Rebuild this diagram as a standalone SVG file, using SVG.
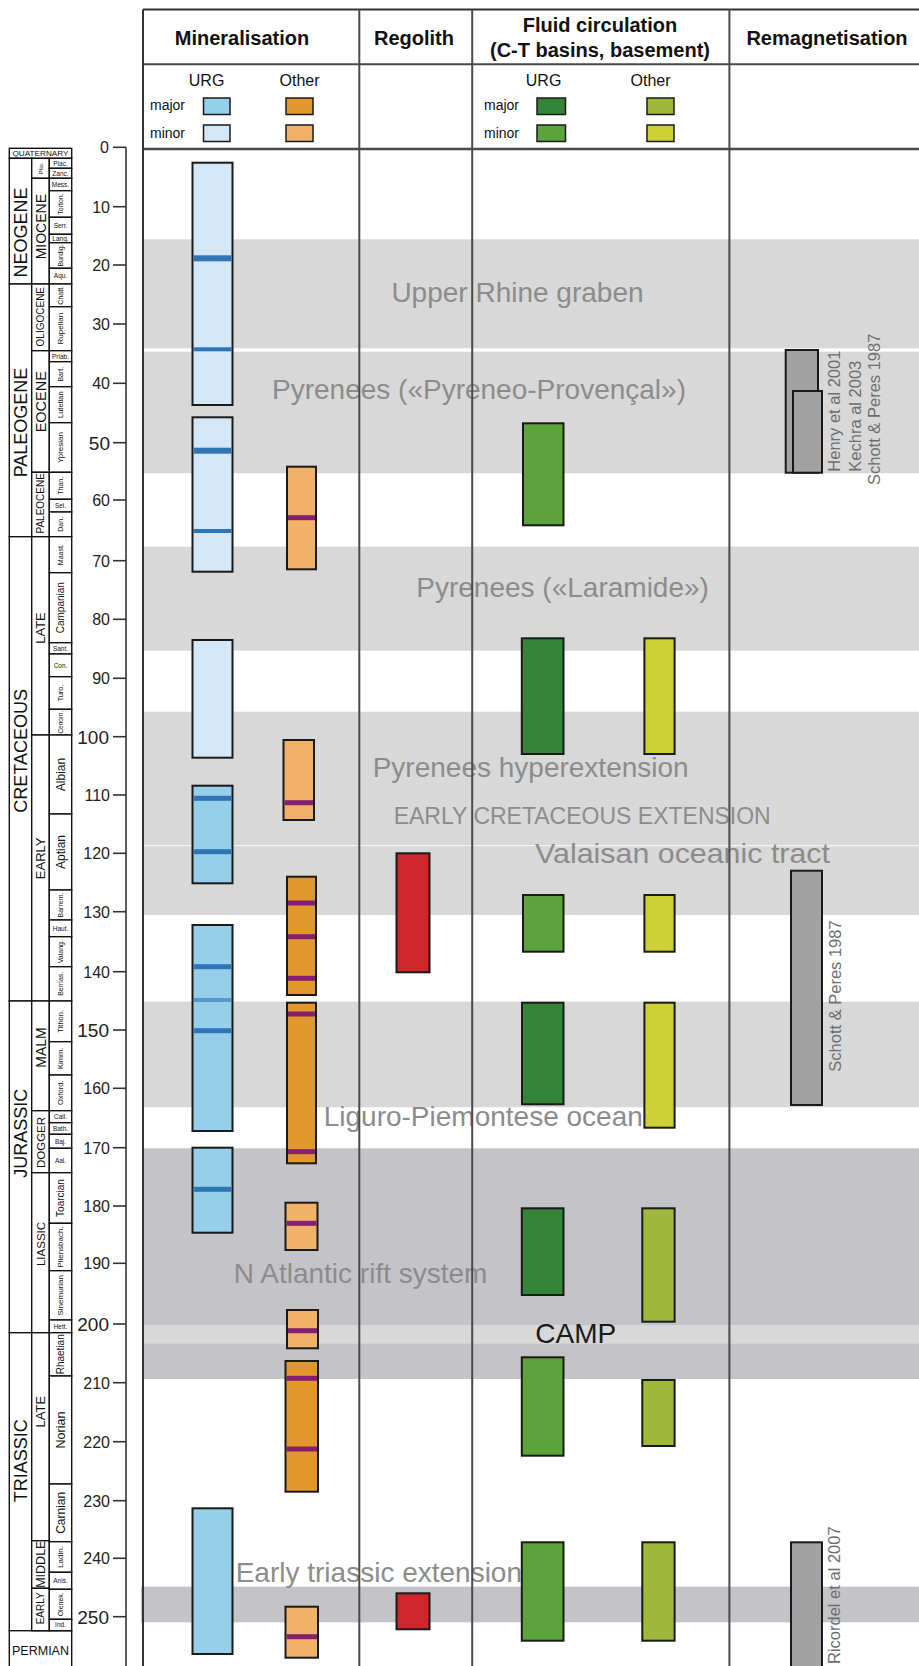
<svg xmlns="http://www.w3.org/2000/svg" width="919" height="1666" viewBox="0 0 919 1666">
<style>
text{font-family:"Liberation Sans",Arial,sans-serif;}
.hdr{font-size:20px;font-weight:bold;fill:#111;text-anchor:middle;}
.leg{font-size:16px;fill:#111;text-anchor:middle;}
.legs{font-size:14px;fill:#111;}
.band{fill:#d8d8d8;}
.bandd{fill:#c4c3c8;}
.blab{font-size:28px;fill:#8c8c8c;}
.num{font-size:16px;fill:#222;text-anchor:end;}
.numb{font-size:19px;fill:#222;text-anchor:end;}
.tick{stroke:#333;stroke-width:1.6;}
.ts{fill:#fff;stroke:#111;stroke-width:1.4;}
.per{font-size:18px;fill:#111;text-anchor:middle;}
.ep{fill:#111;text-anchor:middle;}
.st{fill:#111;text-anchor:middle;}
.col{stroke:#4a4a4a;stroke-width:2;fill:none;}
.bar{stroke:#1a1a1a;stroke-width:2;}
.lb{stroke:#1a1a1a;stroke-width:1.5;}
.urgM{fill:#96cfe9;}
.urgm{fill:#d4e7f6;}
.othM{fill:#e0982e;}
.othm{fill:#f0b268;}
.fuM{fill:#35843a;}
.fum{fill:#5ca33c;}
.foM{fill:#a0b83a;}
.fom{fill:#cccf35;}
.reg{fill:#d0252a;}
.rem{fill:#a2a2a2;}
.sb{fill:#2f74b5;}
.sp{fill:#86206e;}
.rtx{font-size:16.5px;fill:#6e6e6e;}
</style>

<!-- gray bands -->
<g id="bands">
<rect class="band" x="143" y="239.3" width="776" height="109"/>
<rect class="band" x="143" y="351.7" width="776" height="121.6"/>
<rect class="band" x="143" y="546.7" width="776" height="104"/>
<rect class="band" x="143" y="711.7" width="776" height="203.3"/>
<rect fill="#f4f4f4" x="143" y="845" width="776" height="1.2"/>
<rect class="band" x="143" y="1001.7" width="776" height="105.6"/>
<rect class="bandd" x="143" y="1148.3" width="776" height="176.7"/>
<rect class="band" x="143" y="1325" width="776" height="18.3"/>
<rect class="bandd" x="143" y="1343.3" width="776" height="35.7"/>
<rect class="bandd" x="141" y="1586.7" width="778" height="35.6"/>
</g>

<!-- band labels -->
<g id="band-labels">
<text class="blab" x="391.4" y="301.7">Upper Rhine graben</text>
<text class="blab" x="272" y="399.3">Pyrenees («Pyreneo-Provençal»)</text>
<text class="blab" x="416.3" y="597.3">Pyrenees («Laramide»)</text>
<text class="blab" x="372.7" y="776.7">Pyrenees hyperextension</text>
<text class="blab" x="393.7" y="824" style="font-size:23px">EARLY CRETACEOUS EXTENSION</text>
<text class="blab" x="535" y="863.3" textLength="295" lengthAdjust="spacingAndGlyphs">Valaisan oceanic tract</text>
<text class="blab" x="323.7" y="1126">Liguro-Piemontese ocean</text>
<text class="blab" x="233.8" y="1283.3">N Atlantic rift system</text>
<text class="blab" x="235.7" y="1581.7">Early triassic extension</text>
</g>

<!-- table frame -->
<g id="table">
<line class="col" x1="143" y1="9.5" x2="919" y2="9.5" style="stroke:#333"/>
<line class="col" x1="143" y1="64.3" x2="919" y2="64.3"/>
<line class="col" x1="143" y1="149" x2="919" y2="149" style="stroke-width:2.6"/>
<line class="col" x1="143" y1="9.5" x2="143" y2="1666" style="stroke:#333"/>
<line class="col" x1="359.3" y1="9.5" x2="359.3" y2="1666"/>
<line class="col" x1="472.2" y1="9.5" x2="472.2" y2="1666"/>
<line class="col" x1="729.4" y1="9.5" x2="729.4" y2="1666"/>
</g>

<!-- headers -->
<g id="headers">
<text class="hdr" x="242" y="45">Mineralisation</text>
<text class="hdr" x="414" y="45">Regolith</text>
<text class="hdr" x="600" y="32">Fluid circulation</text>
<text class="hdr" x="600" y="57">(C-T basins, basement)</text>
<text class="hdr" x="827" y="45">Remagnetisation</text>
</g>

<!-- legend -->
<g id="legend-mineralisation">
<text class="leg" x="206.6" y="86">URG</text>
<text class="leg" x="299.5" y="86">Other</text>
<text class="legs" x="150" y="110">major</text>
<text class="legs" x="150" y="137.5">minor</text>
<rect class="lb urgM" x="203.5" y="98" width="26.5" height="16.5"/>
<rect class="lb urgm" x="203.5" y="125" width="26.5" height="16.5"/>
<rect class="lb othM" x="286" y="98" width="27" height="16.5"/>
<rect class="lb othm" x="286" y="125" width="27" height="16.5"/>
</g>
<g id="legend-fluid">
<text class="leg" x="543.6" y="86">URG</text>
<text class="leg" x="650.6" y="86">Other</text>
<text class="legs" x="484" y="110">major</text>
<text class="legs" x="484" y="137.5">minor</text>
<rect class="lb fuM" x="537" y="98" width="28.5" height="16.5"/>
<rect class="lb fum" x="537" y="125" width="28.5" height="16.5"/>
<rect class="lb foM" x="647" y="98" width="27" height="16.5"/>
<rect class="lb fom" x="647" y="125" width="27" height="16.5"/>
</g>

<!-- age axis -->
<g id="axis">
<line class="tick" x1="126" y1="147.3" x2="126" y2="1666"/>
<line class="tick" x1="113" y1="147.3" x2="126" y2="147.3"/><text class="num" x="109" y="153.3">0</text>
<line class="tick" x1="113" y1="206.7" x2="126" y2="206.7"/><text class="num" x="110" y="212.7">10</text>
<line class="tick" x1="113" y1="265" x2="126" y2="265"/><text class="num" x="110" y="271">20</text>
<line class="tick" x1="113" y1="324" x2="126" y2="324"/><text class="num" x="110" y="330">30</text>
<line class="tick" x1="113" y1="383.3" x2="126" y2="383.3"/><text class="num" x="110" y="389.3">40</text>
<line class="tick" x1="113" y1="442.7" x2="126" y2="442.7"/><text class="numb" x="110" y="449.5">50</text>
<line class="tick" x1="113" y1="500" x2="126" y2="500"/><text class="num" x="110" y="506">60</text>
<line class="tick" x1="113" y1="560.7" x2="126" y2="560.7"/><text class="num" x="110" y="566.7">70</text>
<line class="tick" x1="113" y1="619.3" x2="126" y2="619.3"/><text class="num" x="110" y="625.3">80</text>
<line class="tick" x1="113" y1="678.3" x2="126" y2="678.3"/><text class="num" x="110" y="684.3">90</text>
<line class="tick" x1="113" y1="736.7" x2="126" y2="736.7"/><text class="numb" x="109" y="743.5">100</text>
<line class="tick" x1="113" y1="795" x2="126" y2="795"/><text class="num" x="110" y="801">110</text>
<line class="tick" x1="113" y1="853.3" x2="126" y2="853.3"/><text class="num" x="110" y="859.3">120</text>
<line class="tick" x1="113" y1="911.7" x2="126" y2="911.7"/><text class="num" x="110" y="917.7">130</text>
<line class="tick" x1="113" y1="971.7" x2="126" y2="971.7"/><text class="num" x="110" y="977.7">140</text>
<line class="tick" x1="113" y1="1030" x2="126" y2="1030"/><text class="numb" x="109" y="1036.8">150</text>
<line class="tick" x1="113" y1="1088.3" x2="126" y2="1088.3"/><text class="num" x="110" y="1094.3">160</text>
<line class="tick" x1="113" y1="1147.7" x2="126" y2="1147.7"/><text class="num" x="110" y="1153.7">170</text>
<line class="tick" x1="113" y1="1206" x2="126" y2="1206"/><text class="num" x="110" y="1212">180</text>
<line class="tick" x1="113" y1="1263.3" x2="126" y2="1263.3"/><text class="num" x="110" y="1269.3">190</text>
<line class="tick" x1="113" y1="1324" x2="126" y2="1324"/><text class="numb" x="109" y="1330.8">200</text>
<line class="tick" x1="113" y1="1382.7" x2="126" y2="1382.7"/><text class="num" x="110" y="1388.7">210</text>
<line class="tick" x1="113" y1="1441.7" x2="126" y2="1441.7"/><text class="num" x="110" y="1447.7">220</text>
<line class="tick" x1="113" y1="1500.7" x2="126" y2="1500.7"/><text class="num" x="110" y="1506.7">230</text>
<line class="tick" x1="113" y1="1558.3" x2="126" y2="1558.3"/><text class="num" x="110" y="1564.3">240</text>
<line class="tick" x1="113" y1="1616.7" x2="126" y2="1616.7"/><text class="numb" x="109" y="1623.5">250</text>
</g>

<!-- geological timescale -->
<g id="timescale">
<!-- periods -->
<rect class="ts" x="9.3" y="148.3" width="62.4" height="10"/>
<text x="40.5" y="156" style="font-size:8px;fill:#111;text-anchor:middle" textLength="56" lengthAdjust="spacingAndGlyphs">QUATERNARY</text>
<rect class="ts" x="9.3" y="158.3" width="22.4" height="125.7"/>
<rect class="ts" x="9.3" y="284" width="22.4" height="252.7"/>
<rect class="ts" x="9.3" y="536.7" width="22.4" height="464.3"/>
<rect class="ts" x="9.3" y="1001" width="22.4" height="331.7"/>
<rect class="ts" x="9.3" y="1332.7" width="22.4" height="298"/>
<rect class="ts" x="9.3" y="1630.7" width="62.4" height="40"/>
<text x="40.5" y="1655" style="font-size:12.5px;fill:#111;text-anchor:middle">PERMIAN</text>
<text class="per" transform="translate(27,232.5) rotate(-90)">NEOGENE</text>
<text class="per" transform="translate(27,422.5) rotate(-90)">PALEOGENE</text>
<text class="per" transform="translate(27,750.8) rotate(-90)">CRETACEOUS</text>
<text class="per" transform="translate(27,1133.3) rotate(-90)">JURASSIC</text>
<text class="per" transform="translate(27,1460.8) rotate(-90)">TRIASSIC</text>
<!-- epochs -->
<rect class="ts" x="31.7" y="158.3" width="17.6" height="20"/>
<rect class="ts" x="31.7" y="178.3" width="17.6" height="105.7"/>
<rect class="ts" x="31.7" y="284" width="17.6" height="66.7"/>
<rect class="ts" x="31.7" y="350.7" width="17.6" height="121.6"/>
<rect class="ts" x="31.7" y="472.3" width="17.6" height="64.4"/>
<rect class="ts" x="31.7" y="536.7" width="17.6" height="198.3"/>
<rect class="ts" x="31.7" y="735" width="17.6" height="266"/>
<rect class="ts" x="31.7" y="1001" width="17.6" height="109.7"/>
<rect class="ts" x="31.7" y="1110.7" width="17.6" height="62"/>
<rect class="ts" x="31.7" y="1172.7" width="17.6" height="160"/>
<rect class="ts" x="31.7" y="1332.7" width="17.6" height="208"/>
<rect class="ts" x="31.7" y="1540.7" width="17.6" height="47.6"/>
<rect class="ts" x="31.7" y="1588.3" width="17.6" height="42.4"/>
<text class="ep" style="font-size:6px" transform="translate(42.5,168.3) rotate(-90)">Plio.</text>
<text class="ep" style="font-size:14px" transform="translate(45.5,226.7) rotate(-90)">MIOCENE</text>
<text class="ep" style="font-size:10px" transform="translate(44,316.7) rotate(-90)">OLIGOCENE</text>
<text class="ep" style="font-size:14.5px" transform="translate(45.7,401.7) rotate(-90)">EOCENE</text>
<text class="ep" style="font-size:10px" transform="translate(44,503.3) rotate(-90)">PALEOCENE</text>
<text class="ep" style="font-size:13px" transform="translate(45.2,628) rotate(-90)">LATE</text>
<text class="ep" style="font-size:13px" transform="translate(45.2,858.3) rotate(-90)">EARLY</text>
<text class="ep" style="font-size:14px" transform="translate(45.5,1047.5) rotate(-90)">MALM</text>
<text class="ep" style="font-size:11.5px" transform="translate(44.6,1142.5) rotate(-90)">DOGGER</text>
<text class="ep" style="font-size:11.5px" transform="translate(44.6,1244) rotate(-90)">LIASSIC</text>
<text class="ep" style="font-size:13px" transform="translate(45.2,1411.7) rotate(-90)">LATE</text>
<text class="ep" style="font-size:12.5px" transform="translate(45,1564.2) rotate(-90)">MIDDLE</text>
<text class="ep" style="font-size:10px" transform="translate(44,1608.3) rotate(-90)">EARLY</text>
<!-- stages -->
<rect class="ts" x="49.3" y="158.3" width="22.4" height="10"/><text class="st" style="font-size:6.5px" x="60.5" y="165.6">Piac.</text>
<rect class="ts" x="49.3" y="168.3" width="22.4" height="10"/><text class="st" style="font-size:6.5px" x="60.5" y="175.6">Zanc.</text>
<rect class="ts" x="49.3" y="178.3" width="22.4" height="12.4"/><text class="st" style="font-size:6.5px" x="60.5" y="186.8">Mess.</text>
<rect class="ts" x="49.3" y="190.7" width="22.4" height="26.6"/><text class="st" style="font-size:7px" transform="translate(62.8,204) rotate(-90)">Torton.</text>
<rect class="ts" x="49.3" y="217.3" width="22.4" height="17"/><text class="st" style="font-size:6.5px" x="60.5" y="228.1">Serr.</text>
<rect class="ts" x="49.3" y="234.3" width="22.4" height="8.4"/><text class="st" style="font-size:6.5px" x="60.5" y="240.8">Lang.</text>
<rect class="ts" x="49.3" y="242.7" width="22.4" height="25.6"/><text class="st" style="font-size:7px" transform="translate(62.8,255.5) rotate(-90)">Burdig.</text>
<rect class="ts" x="49.3" y="268.3" width="22.4" height="15.7"/><text class="st" style="font-size:6.5px" x="60.5" y="278.4">Aqu.</text>
<rect class="ts" x="49.3" y="284" width="22.4" height="22.7"/><text class="st" style="font-size:7px" transform="translate(62.8,295.3) rotate(-90)">Chatt.</text>
<rect class="ts" x="49.3" y="306.7" width="22.4" height="44"/><text class="st" style="font-size:8px" transform="translate(63.2,328.7) rotate(-90)">Rupelian</text>
<rect class="ts" x="49.3" y="350.7" width="22.4" height="11"/><text class="st" style="font-size:6.5px" x="60.5" y="358.5">Priab.</text>
<rect class="ts" x="49.3" y="361.7" width="22.4" height="25"/><text class="st" style="font-size:7px" transform="translate(62.8,374.2) rotate(-90)">Bart.</text>
<rect class="ts" x="49.3" y="386.7" width="22.4" height="36"/><text class="st" style="font-size:7.5px" transform="translate(63,404.7) rotate(-90)">Lutetian</text>
<rect class="ts" x="49.3" y="422.7" width="22.4" height="49.6"/><text class="st" style="font-size:8px" transform="translate(63.2,447.5) rotate(-90)">Ypresian</text>
<rect class="ts" x="49.3" y="472.3" width="22.4" height="27"/><text class="st" style="font-size:7px" transform="translate(62.8,485.8) rotate(-90)">Than.</text>
<rect class="ts" x="49.3" y="499.3" width="22.4" height="12.7"/><text class="st" style="font-size:6.5px" x="60.5" y="508">Sel.</text>
<rect class="ts" x="49.3" y="512" width="22.4" height="24.7"/><text class="st" style="font-size:7px" transform="translate(62.8,524.3) rotate(-90)">Dan.</text>
<rect class="ts" x="49.3" y="536.7" width="22.4" height="36"/><text class="st" style="font-size:7px" transform="translate(62.8,554.7) rotate(-90)">Maast.</text>
<rect class="ts" x="49.3" y="572.7" width="22.4" height="70"/><text class="st" style="font-size:10px" transform="translate(64,607.7) rotate(-90)">Campanian</text>
<rect class="ts" x="49.3" y="642.7" width="22.4" height="11.3"/><text class="st" style="font-size:6.5px" x="60.5" y="650.6">Sant.</text>
<rect class="ts" x="49.3" y="654" width="22.4" height="22.7"/><text class="st" style="font-size:6.5px" x="60.5" y="667.6">Con.</text>
<rect class="ts" x="49.3" y="676.7" width="22.4" height="32.6"/><text class="st" style="font-size:7.5px" transform="translate(63,693) rotate(-90)">Turo.</text>
<rect class="ts" x="49.3" y="709.3" width="22.4" height="25.7"/><text class="st" style="font-size:6.5px" transform="translate(62.6,722.2) rotate(-90)">Cenom.</text>
<rect class="ts" x="49.3" y="735" width="22.4" height="79"/><text class="st" style="font-size:12px" transform="translate(64.6,774.5) rotate(-90)">Albian</text>
<rect class="ts" x="49.3" y="814" width="22.4" height="76"/><text class="st" style="font-size:12px" transform="translate(64.6,852) rotate(-90)">Aptian</text>
<rect class="ts" x="49.3" y="890" width="22.4" height="30"/><text class="st" style="font-size:7px" transform="translate(62.8,905) rotate(-90)">Barrem.</text>
<rect class="ts" x="49.3" y="920" width="22.4" height="16.7"/><text class="st" style="font-size:6.5px" x="60.5" y="930.6">Haut.</text>
<rect class="ts" x="49.3" y="936.7" width="22.4" height="30"/><text class="st" style="font-size:7px" transform="translate(62.8,951.7) rotate(-90)">Valang.</text>
<rect class="ts" x="49.3" y="966.7" width="22.4" height="34.3"/><text class="st" style="font-size:7px" transform="translate(62.8,983.8) rotate(-90)">Berrias.</text>
<rect class="ts" x="49.3" y="1001" width="22.4" height="40.7"/><text class="st" style="font-size:7.5px" transform="translate(63,1021.3) rotate(-90)">Tithon.</text>
<rect class="ts" x="49.3" y="1041.7" width="22.4" height="33.3"/><text class="st" style="font-size:7.5px" transform="translate(63,1058.3) rotate(-90)">Kimm.</text>
<rect class="ts" x="49.3" y="1075" width="22.4" height="35.7"/><text class="st" style="font-size:7.5px" transform="translate(63,1092.8) rotate(-90)">Oxford.</text>
<rect class="ts" x="49.3" y="1110.7" width="22.4" height="12"/><text class="st" style="font-size:6.5px" x="60.5" y="1119">Call.</text>
<rect class="ts" x="49.3" y="1122.7" width="22.4" height="11.6"/><text class="st" style="font-size:6.5px" x="60.5" y="1130.8">Bath.</text>
<rect class="ts" x="49.3" y="1134.3" width="22.4" height="14"/><text class="st" style="font-size:6.5px" x="60.5" y="1143.6">Baj.</text>
<rect class="ts" x="49.3" y="1148.3" width="22.4" height="24.4"/><text class="st" style="font-size:6.5px" x="60.5" y="1162.8">Aal.</text>
<rect class="ts" x="49.3" y="1172.7" width="22.4" height="50.6"/><text class="st" style="font-size:10px" transform="translate(64,1198) rotate(-90)">Toarcian</text>
<rect class="ts" x="49.3" y="1223.3" width="22.4" height="47.4"/><text class="st" style="font-size:8px" transform="translate(63.2,1247) rotate(-90)">Pliensbach.</text>
<rect class="ts" x="49.3" y="1270.7" width="22.4" height="49.3"/><text class="st" style="font-size:8px" transform="translate(63.2,1295.3) rotate(-90)">Sinemurian</text>
<rect class="ts" x="49.3" y="1320" width="22.4" height="12.7"/><text class="st" style="font-size:6.5px" x="60.5" y="1328.6">Hett.</text>
<rect class="ts" x="49.3" y="1332.7" width="22.4" height="43.3"/><text class="st" style="font-size:10px" transform="translate(64,1354.3) rotate(-90)">Rhaetian</text>
<rect class="ts" x="49.3" y="1376" width="22.4" height="108"/><text class="st" style="font-size:12.5px" transform="translate(64.8,1430) rotate(-90)">Norian</text>
<rect class="ts" x="49.3" y="1484" width="22.4" height="57.7"/><text class="st" style="font-size:12px" transform="translate(64.6,1512.8) rotate(-90)">Carnian</text>
<rect class="ts" x="49.3" y="1541.7" width="22.4" height="30.6"/><text class="st" style="font-size:8px" transform="translate(63.2,1557) rotate(-90)">Ladin.</text>
<rect class="ts" x="49.3" y="1572.3" width="22.4" height="17"/><text class="st" style="font-size:6.5px" x="60.5" y="1583.1">Anis.</text>
<rect class="ts" x="49.3" y="1589.3" width="22.4" height="30"/><text class="st" style="font-size:7px" transform="translate(62.8,1604.3) rotate(-90)">Olenek.</text>
<rect class="ts" x="49.3" y="1619.3" width="22.4" height="11.4"/><text class="st" style="font-size:6.5px" x="60.5" y="1627.3">Ind.</text>
</g>

<!-- Mineralisation URG -->
<g id="mineralisation-urg">
<rect class="bar urgm" x="192.5" y="162.7" width="40" height="242.3"/>
<rect class="sb" x="193.5" y="255.3" width="38" height="6"/>
<rect class="sb" x="193.5" y="347.3" width="38" height="4"/>
<rect class="bar urgm" x="192.5" y="417.3" width="40" height="154.4"/>
<rect class="sb" x="193.5" y="447.7" width="38" height="6"/>
<rect class="sb" x="193.5" y="529" width="38" height="4"/>
<rect class="bar urgm" x="192.5" y="640" width="40" height="117.7"/>
<rect class="bar urgM" x="192.5" y="785.7" width="40" height="97.6"/>
<rect class="sb" x="193.5" y="795.8" width="38" height="5"/>
<rect class="sb" x="193.5" y="849.2" width="38" height="5"/>
<rect class="bar urgM" x="192.5" y="925" width="40" height="206"/>
<rect class="sb" x="193.5" y="964.2" width="38" height="5"/>
<rect class="sb" x="193.5" y="998" width="38" height="4" opacity="0.6"/>
<rect class="sb" x="193.5" y="1028.2" width="38" height="5"/>
<rect class="bar urgM" x="192.5" y="1147.7" width="40" height="85"/>
<rect class="sb" x="193.5" y="1186.8" width="38" height="5"/>
<rect class="bar urgM" x="192.5" y="1508.3" width="40" height="145.7"/>
</g>

<!-- Mineralisation Other -->
<g id="mineralisation-other">
<rect class="bar othm" x="287" y="466.7" width="29" height="102.6"/>
<rect class="sp" x="288" y="515.2" width="27" height="5"/>
<rect class="bar othm" x="283.5" y="740" width="30.5" height="80"/>
<rect class="sp" x="284.5" y="800.2" width="28.5" height="5"/>
<rect class="bar othM" x="287" y="876.7" width="29" height="118.3"/>
<rect class="sp" x="288" y="900.5" width="27" height="5"/>
<rect class="sp" x="288" y="934.2" width="27" height="5"/>
<rect class="sp" x="288" y="975.8" width="27" height="5"/>
<rect class="bar othM" x="287" y="1002.7" width="29" height="160.6"/>
<rect class="sp" x="288" y="1011.5" width="27" height="5"/>
<rect class="sp" x="288" y="1149.2" width="27" height="5"/>
<rect class="bar othm" x="285.5" y="1202.7" width="32" height="47.3"/>
<rect class="sp" x="286.5" y="1220.8" width="30" height="5"/>
<rect class="bar othm" x="287" y="1310" width="31" height="38.3"/>
<rect class="sp" x="288" y="1328.2" width="29" height="5"/>
<rect class="bar othM" x="285.5" y="1361" width="32.5" height="130.7"/>
<rect class="sp" x="286.5" y="1375.8" width="30.5" height="5"/>
<rect class="sp" x="286.5" y="1446.5" width="30.5" height="5"/>
<rect class="bar othm" x="285.5" y="1606.7" width="32.5" height="51"/>
<rect class="sp" x="286.5" y="1634.2" width="30.5" height="5"/>
</g>

<!-- Regolith -->
<g id="regolith">
<rect class="bar reg" x="396.5" y="853.3" width="33" height="119"/>
<rect class="bar reg" x="396.5" y="1593.3" width="33" height="36"/>
</g>

<!-- Fluid circulation URG -->
<g id="fluid-urg">
<rect class="bar fum" x="523" y="423.3" width="40.5" height="102"/>
<rect class="bar fuM" x="521.8" y="638.3" width="41.7" height="115.7"/>
<rect class="bar fum" x="523" y="895" width="40.5" height="56.7"/>
<rect class="bar fuM" x="522" y="1002.7" width="41.5" height="101.6"/>
<rect class="bar fuM" x="521.8" y="1208.3" width="41.7" height="86.7"/>
<rect class="bar fum" x="521.8" y="1357.3" width="41.7" height="98.4"/>
<rect class="bar fum" x="521.8" y="1542.3" width="41.7" height="98.4"/>
</g>

<!-- Fluid circulation Other -->
<g id="fluid-other">
<rect class="bar fom" x="644.4" y="638.3" width="30.2" height="115.7"/>
<rect class="bar fom" x="644.4" y="895" width="30.2" height="56.7"/>
<rect class="bar fom" x="644.4" y="1002.7" width="30.2" height="125"/>
<rect class="bar foM" x="642.3" y="1208.3" width="32.3" height="113.4"/>
<rect class="bar foM" x="642.3" y="1380" width="32.3" height="66"/>
<rect class="bar foM" x="642.3" y="1542.3" width="32.3" height="98.4"/>
</g>

<text id="camp" x="535.3" y="1342.7" style="font-size:28px;fill:#1a1a1a">CAMP</text>

<!-- Remagnetisation -->
<g id="remagnetisation">
<rect class="bar rem" x="785.7" y="350" width="32.3" height="122.7"/>
<rect class="bar rem" x="793" y="391" width="29" height="81.7"/>
<rect class="bar rem" x="791" y="870.7" width="31" height="234.3"/>
<rect class="bar rem" x="791" y="1542.3" width="31" height="130"/>
<text class="rtx" transform="translate(840,471.7) rotate(-90)">Henry et al 2001</text>
<text class="rtx" transform="translate(860.5,471.7) rotate(-90)">Kechra al 2003</text>
<text class="rtx" transform="translate(880,485) rotate(-90)">Schott &amp; Peres 1987</text>
<text class="rtx" transform="translate(841,1071.7) rotate(-90)">Schott &amp; Peres 1987</text>
<text class="rtx" transform="translate(840,1664) rotate(-90)">Ricordel et al 2007</text>
</g>
</svg>
